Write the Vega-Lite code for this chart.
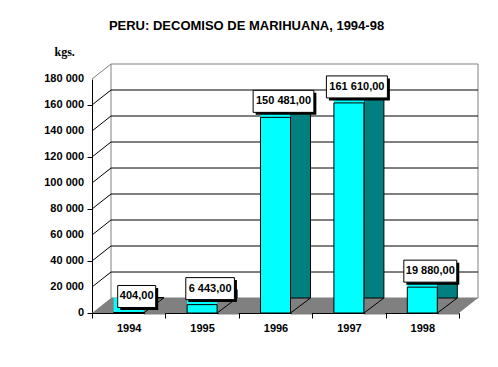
{
  "$schema": "https://vega.github.io/schema/vega-lite/v6.json",
  "width": 367,
  "height": 234,
  "autosize": "none",
  "padding": {"left": 92, "top": 79, "right": 39, "bottom": 54},
  "title": {"text": "PERU: DECOMISO DE MARIHUANA, 1994-98", "font": "Liberation Sans", "fontSize": 13, "fontWeight": "bold", "color": "black", "anchor": "middle", "frame": "group", "dx": -29, "dy": 2, "offset": 14},
  "datasets": {
    "bars": [
      {"year": "1994", "value": 404},
      {"year": "1995", "value": 6443},
      {"year": "1996", "value": 150481},
      {"year": "1997", "value": 161610},
      {"year": "1998", "value": 19880}
    ],
    "grid": [
      {"v": 20000}, {"v": 40000}, {"v": 60000}, {"v": 80000},
      {"v": 100000}, {"v": 120000}, {"v": 140000}, {"v": 160000}
    ],
    "ticks": [
      {"v": 0}, {"v": 20000}, {"v": 40000}, {"v": 60000}, {"v": 80000},
      {"v": 100000}, {"v": 120000}, {"v": 140000}, {"v": 160000}, {"v": 180000}
    ]
  },
  "config": {
    "locale": {"number": {"decimal": ",", "thousands": " ", "grouping": [3], "currency": ["", ""]}},
    "view": {"stroke": null},
    "axis": {"labelFont": "Liberation Sans", "labelFontSize": 11, "labelFontWeight": "bold", "labelColor": "black", "domainColor": "black", "tickColor": "black", "tickSize": 5, "grid": false, "zindex": 1}
  },
  "layer": [
    {
      "data": {"values": [{}]},
      "mark": {"type": "rect", "fill": "white", "stroke": "#808080", "strokeWidth": 1, "xOffset": 19, "x2Offset": 19, "yOffset": -15, "y2Offset": -15},
      "encoding": {
        "x": {"datum": "1994", "bandPosition": 0},
        "x2": {"datum": "1998", "bandPosition": 1},
        "y": {"datum": 180000, "type": "quantitative", "scale": {"domain": [0, 180000], "nice": false}, "axis": {"title": "kgs.", "values": [0, 20000, 40000, 60000, 80000, 100000, 120000, 140000, 160000, 180000], "labels": false, "titleAngle": 0, "titleAlign": "left", "titleBaseline": "alphabetic", "titleX": -38, "titleY": -24, "titleFont": "Liberation Serif", "titleFontSize": 12, "titleFontWeight": "bold", "titleColor": "black"}},
        "y2": {"datum": 0}
      }
    },
    {
      "data": {"name": "ticks"},
      "mark": {"type": "text", "font": "Liberation Sans", "fontSize": 11, "fontWeight": "bold", "color": "black", "align": "right", "baseline": "middle", "xOffset": -8},
      "encoding": {
        "x": {"datum": "1994", "bandPosition": 0},
        "y": {"field": "v", "type": "quantitative"},
        "text": {"field": "v", "type": "quantitative", "format": ",d"}
      }
    },
    {
      "data": {"name": "grid"},
      "mark": {"type": "rule", "color": "black", "strokeWidth": 1, "xOffset": 19, "x2Offset": 19, "yOffset": -15, "y2Offset": -15},
      "encoding": {
        "x": {"datum": "1994", "bandPosition": 0},
        "x2": {"datum": "1998", "bandPosition": 1},
        "y": {"field": "v", "type": "quantitative"},
        "y2": {"field": "v"}
      }
    },
    {
      "data": {"name": "grid"},
      "mark": {"type": "rule", "color": "black", "strokeWidth": 1, "x2Offset": 19, "y2Offset": -15},
      "encoding": {
        "x": {"datum": "1994", "bandPosition": 0},
        "x2": {"datum": "1994", "bandPosition": 0},
        "y": {"field": "v", "type": "quantitative"},
        "y2": {"field": "v"}
      }
    },
    {
      "data": {"values": [{}]},
      "mark": {"type": "rule", "color": "#808080", "strokeWidth": 1, "x2Offset": 19, "y2Offset": -15},
      "encoding": {
        "x": {"datum": "1994", "bandPosition": 0},
        "x2": {"datum": "1994", "bandPosition": 0},
        "y": {"datum": 180000, "type": "quantitative"},
        "y2": {"datum": 180000}
      }
    },
    {
      "data": {"values": [{}]},
      "mark": {"type": "point", "shape": "M0,0L367,0L386,-15L19,-15Z", "size": 4, "filled": true, "fill": "#808080", "opacity": 1, "strokeWidth": 0},
      "encoding": {
        "x": {"datum": "1994", "bandPosition": 0},
        "y": {"datum": 0, "type": "quantitative"}
      }
    },
    {
      "data": {"name": "bars"},
      "mark": {"type": "bar", "fill": "#008080", "stroke": "black", "strokeWidth": 1, "width": 20, "xOffset": 25, "yOffset": -15},
      "encoding": {
        "x": {"field": "year", "type": "nominal", "scale": {"paddingInner": 0, "paddingOuter": 0}, "axis": {"title": null, "labelAngle": 0, "labelAlign": "center", "labelBaseline": "top", "tickBand": "extent", "labelPadding": 4}},
        "y": {"field": "value", "type": "quantitative"}
      }
    },
    {
      "data": {"name": "bars"},
      "mark": {"type": "point", "shape": "M0,1.5L21.5,1.5L21.5,-15Z", "size": 4, "filled": true, "fill": "#808080", "opacity": 1, "strokeWidth": 0, "xOffset": 15},
      "encoding": {
        "x": {"field": "year", "type": "nominal"},
        "y": {"datum": 0, "type": "quantitative"}
      }
    },
    {
      "data": {"name": "bars"},
      "mark": {"type": "rule", "color": "black", "strokeWidth": 1, "xOffset": 15, "x2Offset": 35, "y2Offset": -15},
      "encoding": {
        "x": {"field": "year", "type": "nominal"},
        "x2": {"field": "year"},
        "y": {"datum": 0, "type": "quantitative"},
        "y2": {"datum": 0}
      }
    },
    {
      "data": {"name": "bars"},
      "mark": {"type": "bar", "fill": "#00FFFF", "width": 30, "yOffset": -15},
      "encoding": {
        "x": {"field": "year", "type": "nominal"},
        "y": {"field": "value", "type": "quantitative"},
        "y2": {"field": "value"}
      }
    },
    {
      "data": {"name": "bars"},
      "mark": {"type": "bar", "fill": "#00FFFF", "stroke": "black", "strokeWidth": 1, "width": 30},
      "encoding": {
        "x": {"field": "year", "type": "nominal"},
        "y": {"field": "value", "type": "quantitative"}
      }
    },
    {
      "data": {"name": "bars"},
      "mark": {"type": "tick", "orient": "horizontal", "thickness": 22, "fill": "black", "opacity": 1, "xOffset": 10.5, "yOffset": -13.5},
      "encoding": {
        "x": {"field": "year", "type": "nominal"},
        "y": {"field": "value", "type": "quantitative"},
        "size": {"field": "value", "type": "quantitative", "scale": {"type": "log", "domain": [404, 161610], "range": [38, 61]}, "legend": null}
      }
    },
    {
      "data": {"name": "bars"},
      "mark": {"type": "tick", "orient": "horizontal", "thickness": 22, "fill": "white", "stroke": "black", "strokeWidth": 1, "opacity": 1, "xOffset": 8, "yOffset": -16},
      "encoding": {
        "x": {"field": "year", "type": "nominal"},
        "y": {"field": "value", "type": "quantitative"},
        "size": {"field": "value", "type": "quantitative", "legend": null}
      }
    },
    {
      "data": {"name": "bars"},
      "mark": {"type": "text", "font": "Liberation Sans", "fontSize": 11, "fontWeight": "bold", "color": "black", "align": "center", "baseline": "middle", "xOffset": 8, "yOffset": -16},
      "encoding": {
        "x": {"field": "year", "type": "nominal"},
        "y": {"field": "value", "type": "quantitative"},
        "text": {"field": "value", "type": "quantitative", "format": ",.2f"}
      }
    }
  ]
}
